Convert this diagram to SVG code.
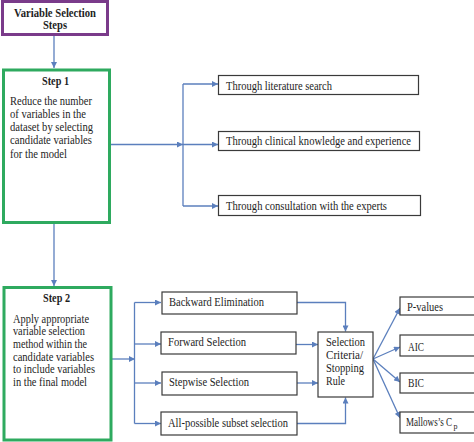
<svg xmlns="http://www.w3.org/2000/svg" width="474" height="442" viewBox="0 0 474 442">
<defs>
<marker id="ah" viewBox="0 0 10 10" refX="10" refY="5" markerWidth="7" markerHeight="6" markerUnits="userSpaceOnUse" orient="auto">
<path d="M0,0 L10,5 L0,10 z" fill="#5b7fbd"/>
</marker>
<style>
text{font-family:"Liberation Serif","Times New Roman",serif;font-size:12px;fill:#1e1e1e}
.b{font-weight:bold}
.box{fill:#fff;stroke:#3a3a3a;stroke-width:1.2}
.green{fill:#fff;stroke:#2eaa5f;stroke-width:3}
.purple{fill:#fff;stroke:#7a3b8a;stroke-width:3}
.c{fill:none;stroke:#5b7fbd;stroke-width:1.3}
.a{marker-end:url(#ah)}
</style>
</defs>
<rect width="474" height="442" fill="#fff"/>
<g id="connectors">
<path class="c a" d="M54,35 L54,68"/>
<path class="c a" d="M110,144.5 L183,144.5"/>
<path class="c" d="M183,84 L183,206"/>
<path class="c a" d="M183,84 L218,84"/>
<path class="c a" d="M183,144.5 L218,144.5"/>
<path class="c a" d="M183,206 L218,206"/>
<path class="c a" d="M54,222 L54,286"/>
<path class="c a" d="M111,359 L135,359"/>
<path class="c" d="M134.5,302.5 L134.5,423.5"/>
<path class="c a" d="M134.5,302.5 L161,302.5"/>
<path class="c a" d="M134.5,344 L161,344"/>
<path class="c a" d="M134.5,383 L161,383"/>
<path class="c a" d="M134.5,423.5 L161,423.5"/>
<path class="c a" d="M297,302.5 L345.5,302.5 L345.5,331.5"/>
<path class="c a" d="M296,344.5 L318,344.5"/>
<path class="c a" d="M297,383 L318,383"/>
<path class="c a" d="M297,423.5 L345.5,423.5 L345.5,397.5"/>
<path class="c a" d="M373,359 L400,308"/>
<path class="c a" d="M373,359 L400,347"/>
<path class="c a" d="M373,359 L400,382"/>
<path class="c a" d="M373,359 L400,418"/>
</g>
<g id="start">
<rect class="purple" x="2.5" y="1.5" width="105" height="33"/>
<text class="b" x="14" y="16.5" textLength="82" lengthAdjust="spacingAndGlyphs">Variable Selection</text>
<text class="b" x="43" y="29" textLength="24" lengthAdjust="spacingAndGlyphs">Steps</text>
</g>
<g id="step1">
<rect class="green" x="3.5" y="70" width="106" height="152.5"/>
<text class="b" x="42" y="84.5" textLength="27" lengthAdjust="spacingAndGlyphs">Step 1</text>
<text x="10" y="104.5" textLength="82" lengthAdjust="spacingAndGlyphs">Reduce the number</text>
<text x="10" y="117.8" textLength="76" lengthAdjust="spacingAndGlyphs">of variables in the</text>
<text x="10" y="131" textLength="83" lengthAdjust="spacingAndGlyphs">dataset by selecting</text>
<text x="10" y="144.4" textLength="82" lengthAdjust="spacingAndGlyphs">candidate variables</text>
<text x="10" y="157.7" textLength="57" lengthAdjust="spacingAndGlyphs">for the model</text>
</g>
<g id="lit">
<rect class="box" x="218.5" y="75.5" width="200" height="19"/>
<text x="226" y="89.5" textLength="106" lengthAdjust="spacingAndGlyphs">Through literature search</text>
</g>
<g id="clinical">
<rect class="box" x="218.5" y="131.5" width="201" height="19"/>
<text x="226" y="145" textLength="185" lengthAdjust="spacingAndGlyphs">Through clinical knowledge and experience</text>
</g>
<g id="experts">
<rect class="box" x="218.5" y="195.5" width="202" height="20"/>
<text x="226" y="209.5" textLength="161" lengthAdjust="spacingAndGlyphs">Through consultation with the experts</text>
</g>
<g id="step2">
<rect class="green" x="4" y="287.5" width="107" height="152.5"/>
<text class="b" x="43" y="302" textLength="27" lengthAdjust="spacingAndGlyphs">Step 2</text>
<text x="13" y="322.5" textLength="76" lengthAdjust="spacingAndGlyphs">Apply appropriate</text>
<text x="13" y="335.2" textLength="72" lengthAdjust="spacingAndGlyphs">variable selection</text>
<text x="13" y="347.9" textLength="74" lengthAdjust="spacingAndGlyphs">method within the</text>
<text x="13" y="360.6" textLength="81" lengthAdjust="spacingAndGlyphs">candidate variables</text>
<text x="13" y="373.3" textLength="82" lengthAdjust="spacingAndGlyphs">to include variables</text>
<text x="13" y="386" textLength="74" lengthAdjust="spacingAndGlyphs">in the final model</text>
</g>
<g id="backward">
<rect class="box" x="162" y="292" width="135" height="22"/>
<text x="169" y="306" textLength="95" lengthAdjust="spacingAndGlyphs">Backward Elimination</text>
</g>
<g id="forward">
<rect class="box" x="161" y="332" width="135" height="22"/>
<text x="168" y="346" textLength="78" lengthAdjust="spacingAndGlyphs">Forward Selection</text>
</g>
<g id="stepwise">
<rect class="box" x="162" y="372" width="135" height="23"/>
<text x="169" y="386" textLength="80" lengthAdjust="spacingAndGlyphs">Stepwise Selection</text>
</g>
<g id="allsubset">
<rect class="box" x="161" y="412" width="136" height="23"/>
<text x="168" y="427" textLength="120" lengthAdjust="spacingAndGlyphs">All-possible subset selection</text>
</g>
<g id="criteria">
<rect class="box" x="318" y="332" width="55" height="65"/>
<text x="326" y="346" textLength="39" lengthAdjust="spacingAndGlyphs">Selection</text>
<text x="326" y="359" textLength="37" lengthAdjust="spacingAndGlyphs">Criteria/</text>
<text x="326" y="372" textLength="38" lengthAdjust="spacingAndGlyphs">Stopping</text>
<text x="326" y="385" textLength="19" lengthAdjust="spacingAndGlyphs">Rule</text>
</g>
<g id="pvalues">
<rect class="box" x="400" y="297" width="80" height="18"/>
<text x="407" y="311" textLength="36" lengthAdjust="spacingAndGlyphs">P-values</text>
</g>
<g id="aic">
<rect class="box" x="400" y="335" width="80" height="21"/>
<text x="408" y="351" textLength="16" lengthAdjust="spacingAndGlyphs">AIC</text>
</g>
<g id="bic">
<rect class="box" x="400" y="373" width="80" height="20"/>
<text x="408" y="387" textLength="16" lengthAdjust="spacingAndGlyphs">BIC</text>
</g>
<g id="mallows">
<rect class="box" x="400" y="412" width="80" height="21"/>
<text x="406" y="426"><tspan textLength="46" lengthAdjust="spacingAndGlyphs">Mallows’s C</tspan><tspan dx="1.5" dy="2.5" style="font-size:8px">p</tspan></text>
</g>
</svg>
